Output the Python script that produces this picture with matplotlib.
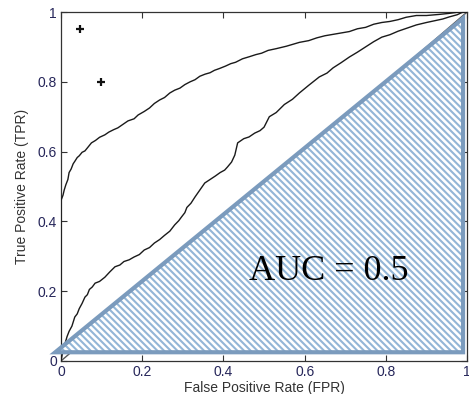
import numpy as np
import matplotlib
matplotlib.use('Agg')
import matplotlib.pyplot as plt
from matplotlib.patches import Polygon

plt.rcParams['font.family'] = ['Liberation Sans', 'DejaVu Sans']
plt.rcParams['hatch.linewidth'] = 1.5

# ROC curve values
fpr_good = [0.0, 0.0, 0.0, 0.005, 0.008, 0.012, 0.017, 0.02, 0.025, 0.03, 0.034, 0.04,
            0.045, 0.052, 0.059, 0.066, 0.075, 0.085, 0.095, 0.108, 0.118, 0.13, 0.14,
            0.15, 0.165, 0.18, 0.19, 0.205, 0.218, 0.23, 0.243, 0.255, 0.268, 0.28, 0.293,
            0.305, 0.318, 0.33, 0.342, 0.355, 0.367, 0.378, 0.39, 0.405, 0.418, 0.43, 0.447,
            0.464, 0.48, 0.494, 0.51, 0.53, 0.555, 0.587, 0.61, 0.63, 0.65, 0.68, 0.71,
            0.73, 0.75, 0.77, 0.79, 0.81, 0.83, 0.85, 0.875, 0.9, 0.93, 0.955, 0.98, 1.0]
tpr_good = [0.0, 0.36, 0.46, 0.475, 0.49, 0.505, 0.52, 0.54, 0.55, 0.565, 0.572, 0.583,
            0.588, 0.598, 0.602, 0.612, 0.625, 0.632, 0.641, 0.648, 0.656, 0.663, 0.668,
            0.676, 0.688, 0.694, 0.705, 0.715, 0.725, 0.738, 0.748, 0.755, 0.768, 0.776,
            0.782, 0.792, 0.8, 0.806, 0.816, 0.822, 0.826, 0.833, 0.838, 0.845, 0.852,
            0.856, 0.866, 0.872, 0.878, 0.882, 0.89, 0.895, 0.902, 0.913, 0.918, 0.926,
            0.932, 0.938, 0.944, 0.952, 0.956, 0.965, 0.97, 0.973, 0.978, 0.985, 0.99,
            0.99, 0.993, 0.996, 1.0, 1.0]

fpr_weak = [0.0, 0.005, 0.01, 0.015, 0.02, 0.027, 0.034, 0.04, 0.045, 0.052, 0.059, 0.065,
            0.07, 0.077, 0.084, 0.095, 0.108, 0.12, 0.133, 0.145, 0.155, 0.168, 0.18, 0.193,
            0.205, 0.218, 0.23, 0.243, 0.255, 0.268, 0.28, 0.29, 0.297, 0.305, 0.31, 0.32,
            0.33, 0.342, 0.354, 0.367, 0.38, 0.392, 0.403, 0.41, 0.42, 0.428, 0.435, 0.45,
            0.463, 0.477, 0.49, 0.5, 0.513, 0.53, 0.55, 0.57, 0.587, 0.61, 0.636, 0.655,
            0.67, 0.69, 0.71, 0.73, 0.75, 0.77, 0.79, 0.81, 0.83, 0.855, 0.875, 0.9, 0.92,
            0.94, 0.956, 0.975, 0.99, 1.0]
tpr_weak = [0.0, 0.03, 0.05, 0.07, 0.085, 0.1, 0.126, 0.135, 0.15, 0.165, 0.183, 0.19,
            0.205, 0.212, 0.223, 0.228, 0.24, 0.255, 0.27, 0.275, 0.285, 0.29, 0.298, 0.305,
            0.318, 0.325, 0.338, 0.348, 0.36, 0.372, 0.39, 0.402, 0.413, 0.425, 0.44,
            0.452, 0.47, 0.49, 0.51, 0.52, 0.53, 0.54, 0.547, 0.556, 0.57, 0.59, 0.625,
            0.637, 0.642, 0.653, 0.66, 0.67, 0.70, 0.712, 0.735, 0.75, 0.768, 0.79, 0.814,
            0.825, 0.84, 0.855, 0.871, 0.885, 0.9, 0.915, 0.928, 0.935, 0.945, 0.955,
            0.963, 0.97, 0.975, 0.98, 0.986, 0.992, 1.0, 1.0]

point_fpr = [0.047, 0.098]
point_tpr = [0.95, 0.80]

ticks = [0, 0.2, 0.4, 0.6, 0.8, 1]
tick_labels = ['0', '0.2', '0.4', '0.6', '0.8', '1']

fig = plt.figure(figsize=(4.69, 3.94), dpi=100)
ax = fig.add_axes([0.130, 0.0838, 0.866, 0.8857])

# chance diagonal (under the shaded triangle)
ax.plot([0, 1], [0, 1], color='#555555', linewidth=1.0, zorder=2)

ax.plot(fpr_good, tpr_good, color='#1a1a1a', linewidth=1.0, zorder=3)
ax.plot(fpr_weak, tpr_weak, color='#1a1a1a', linewidth=1.0, zorder=3)
ax.plot(point_fpr, point_tpr, linestyle='none', marker='+', markersize=6,
        markeredgewidth=1.6, color='#111111', zorder=3)

# hatched AUC = 0.5 triangle
tri = [(-0.014, 0.025), (0.99, 0.982), (0.99, 0.025)]
ax.add_patch(Polygon(tri, closed=True, facecolor='white', edgecolor='#93b6d7',
                     hatch='\\' * 5, linewidth=0, clip_on=False, zorder=4))
ax.add_patch(Polygon(tri, closed=True, fill=False, edgecolor='#7b9bbd',
                     linewidth=3.0, joinstyle='miter', clip_on=False, zorder=5))

ax.text(0.464, 0.232, 'AUC = 0.5', family='Liberation Serif', fontsize=26,
        color='black', zorder=6)

ax.set_xlim(0, 1)
ax.set_ylim(0, 1)
ax.set_xticks(ticks)
ax.set_xticklabels(tick_labels)
ax.set_yticks(ticks)
ax.set_yticklabels(tick_labels)
ax.tick_params(direction='in', length=4, width=0.8, top=True, right=True,
               labelsize=10, labelcolor='#26265a', color='#333333', pad=3)
for s in ax.spines.values():
    s.set_color('#333333')
    s.set_linewidth(0.9)

ax.set_xlabel('False Positive Rate (FPR)', fontsize=10, color='#333333', labelpad=1)
ax.set_ylabel('True Positive Rate (TPR)', fontsize=10, color='#333333', labelpad=6)

plt.savefig('out.png', dpi=100)
